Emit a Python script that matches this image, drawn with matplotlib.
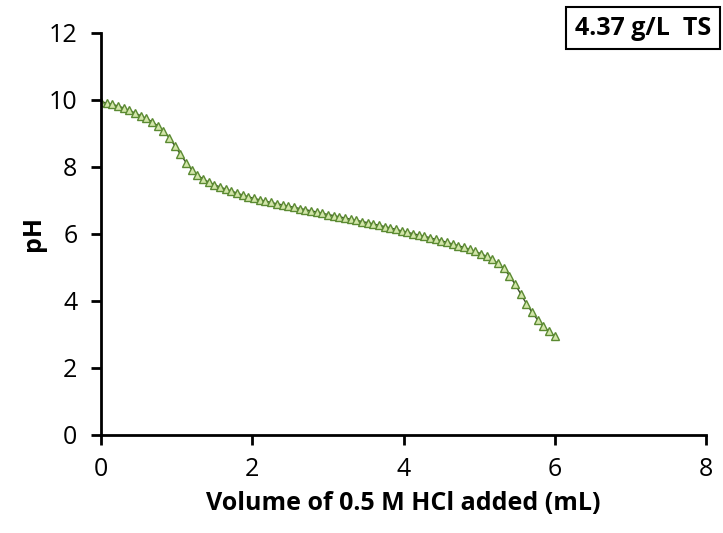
import matplotlib
matplotlib.use('Agg')
import matplotlib.pyplot as plt

# 数据：0.5 M HCl 加入体积 (mL) 与 pH
volume = [0.000, 0.075, 0.150, 0.225, 0.300, 0.375, 0.450, 0.525, 0.600, 0.675,
          0.750, 0.825, 0.900, 0.975, 1.050, 1.125, 1.200, 1.275, 1.350, 1.425,
          1.500, 1.575, 1.650, 1.725, 1.800, 1.875, 1.950, 2.025, 2.100, 2.175,
          2.250, 2.325, 2.400, 2.475, 2.550, 2.625, 2.700, 2.775, 2.850, 2.925,
          3.000, 3.075, 3.150, 3.225, 3.300, 3.375, 3.450, 3.525, 3.600, 3.675,
          3.750, 3.825, 3.900, 3.975, 4.050, 4.125, 4.200, 4.275, 4.350, 4.425,
          4.500, 4.575, 4.650, 4.725, 4.800, 4.875, 4.950, 5.025, 5.100, 5.175,
          5.250, 5.325, 5.400, 5.475, 5.550, 5.625, 5.700, 5.775, 5.850, 5.925,
          6.000]
ph = [9.95, 9.91, 9.87, 9.82, 9.76, 9.69, 9.61, 9.53, 9.45, 9.35,
      9.23, 9.08, 8.88, 8.64, 8.38, 8.13, 7.92, 7.76, 7.64, 7.55,
      7.47, 7.40, 7.34, 7.28, 7.22, 7.16, 7.11, 7.06, 7.02, 6.98,
      6.94, 6.90, 6.87, 6.83, 6.80, 6.76, 6.73, 6.69, 6.66, 6.62,
      6.58, 6.55, 6.51, 6.48, 6.44, 6.41, 6.37, 6.34, 6.30, 6.26,
      6.22, 6.18, 6.14, 6.09, 6.05, 6.01, 5.97, 5.93, 5.89, 5.84,
      5.80, 5.75, 5.70, 5.65, 5.60, 5.54, 5.48, 5.41, 5.33, 5.24,
      5.12, 4.97, 4.76, 4.50, 4.21, 3.92, 3.66, 3.43, 3.24, 3.09,
      2.95]

x_ticks = [0, 2, 4, 6, 8]
y_ticks = [0, 2, 4, 6, 8, 10, 12]
label_text = '4.37 g/L  TS'

plt.rcParams['font.family'] = ['Open Sans', 'DejaVu Sans']

fig = plt.figure(figsize=(7.23, 5.33), dpi=100)
ax = fig.add_axes([0.1397, 0.1839, 0.8368, 0.7542])

ax.plot(volume, ph, color='#3a4a2a', linewidth=1.0, marker='^', markersize=6,
        markerfacecolor='#d3e6aa', markeredgecolor='#5b8a32', markeredgewidth=1.0)

ax.set_xlim(0, 8)
ax.set_ylim(0, 12)
ax.set_xticks(x_ticks)
ax.set_yticks(y_ticks)
ax.tick_params(labelsize=18, width=2, length=7, direction='out')
ax.tick_params(axis='x', pad=9)
ax.tick_params(axis='y', pad=10)

for side in ['top', 'right']:
    ax.spines[side].set_visible(False)
for side in ['left', 'bottom']:
    ax.spines[side].set_linewidth(2)

ax.set_xlabel('Volume of 0.5 M HCl added (mL)', fontsize=18, fontweight='bold', labelpad=6)
ax.set_ylabel('pH', fontsize=18, fontweight='bold', labelpad=2)

fig.text(0.984, 0.947, label_text, fontsize=18, fontweight='bold', ha='right', va='center',
         bbox=dict(boxstyle='square,pad=0.35', facecolor='white', edgecolor='black', linewidth=1.5))

fig.savefig('out.png', dpi=100)
